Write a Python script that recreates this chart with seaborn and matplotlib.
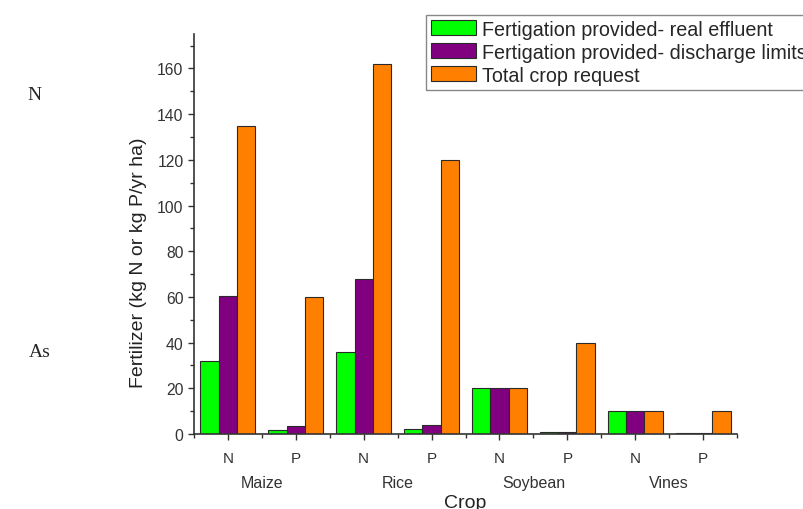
import matplotlib
matplotlib.use("Agg")
import matplotlib.pyplot as plt
import seaborn as sns
import pandas as pd

# datos
cultivos = ["Maize", "Rice", "Soybean", "Vines"]
nutrientes = ["N", "P"]
real_effluent = [32, 1.8, 36, 2, 20, 0.8, 10, 0.3]
discharge_limits = [60.5, 3.5, 68, 4, 20, 0.8, 10, 0.3]
crop_request = [135, 60, 162, 120, 20, 40, 10, 10]
series = ["Fertigation provided- real effluent",
          "Fertigation provided- discharge limits",
          "Total crop request"]
colores = ["#00ff00", "#800080", "#ff8000"]

grupos = [c + " " + n for c in cultivos for n in nutrientes]
filas = []
for nombre, valores in zip(series, [real_effluent, discharge_limits, crop_request]):
    for g, v in zip(grupos, valores):
        filas.append({"grupo": g, "serie": nombre, "valor": v})
db = pd.DataFrame(filas)

sns.set_style("ticks")
plt.rcParams["font.family"] = ["Liberation Sans", "DejaVu Sans"]

fig = plt.figure(figsize=(8.04, 5.10), dpi=100)
ax = fig.add_axes([0.2413, 0.147, 0.6754, 0.784])

sns.barplot(data=db, x="grupo", y="valor", hue="serie", order=grupos,
            hue_order=series, palette=colores, width=0.81, gap=0,
            edgecolor="#2a2a2a", linewidth=0.8, saturation=1, ax=ax)

ax.set_xlim(-0.5, 7.5)
ax.set_ylim(0, 175)
ax.set_yticks(range(0, 161, 20))
ax.set_yticks(range(10, 171, 20), minor=True)
ax.set_xticks(range(8))
ax.set_xticklabels(nutrientes * 4, fontsize=11, color="#333333")
ax.set_xticks([i + 0.5 for i in range(-1, 8)], minor=True)
ax.tick_params(axis="y", labelsize=11.3, labelcolor="#333333", length=4, width=1, color="#333333")
ax.tick_params(axis="x", length=4, width=1, color="#333333", pad=8)
ax.tick_params(which="minor", length=3, width=1, color="#333333")
for s in ["top", "right"]:
    ax.spines[s].set_visible(False)
for s in ["left", "bottom"]:
    ax.spines[s].set_color("#333333")
    ax.spines[s].set_linewidth(1.2)

ax.set_xlabel("")
ax.set_ylabel("Fertilizer (kg N or kg P/yr ha)", fontsize=14, color="#222222")
ax.yaxis.set_label_coords(-0.087, 0.43)

# nombres de cultivos debajo de los N/P
for i, c in enumerate(cultivos):
    ax.text(2 * i + 0.5, -0.12, c, transform=ax.get_xaxis_transform(),
            ha="center", va="center", fontsize=11.5, color="#333333")
ax.text(3.5, -0.17, "Crop", transform=ax.get_xaxis_transform(),
        ha="center", va="center", fontsize=14, color="#222222")

ax.legend(loc="upper left", bbox_to_anchor=(0.53, 0.969),
          bbox_transform=fig.transFigure, fontsize=14.2, frameon=True,
          fancybox=False, edgecolor="#888888", framealpha=1,
          handlelength=2.28, handleheight=0.8, labelspacing=0.2,
          borderpad=0.25, handletextpad=0.3, borderaxespad=0)

fig.text(0.043, 0.812, "N", fontsize=14, family="Liberation Serif", va="center", ha="center")
fig.text(0.050, 0.308, "As", fontsize=14, family="Liberation Serif", va="center", ha="center")

fig.savefig("out.png", dpi=100)
